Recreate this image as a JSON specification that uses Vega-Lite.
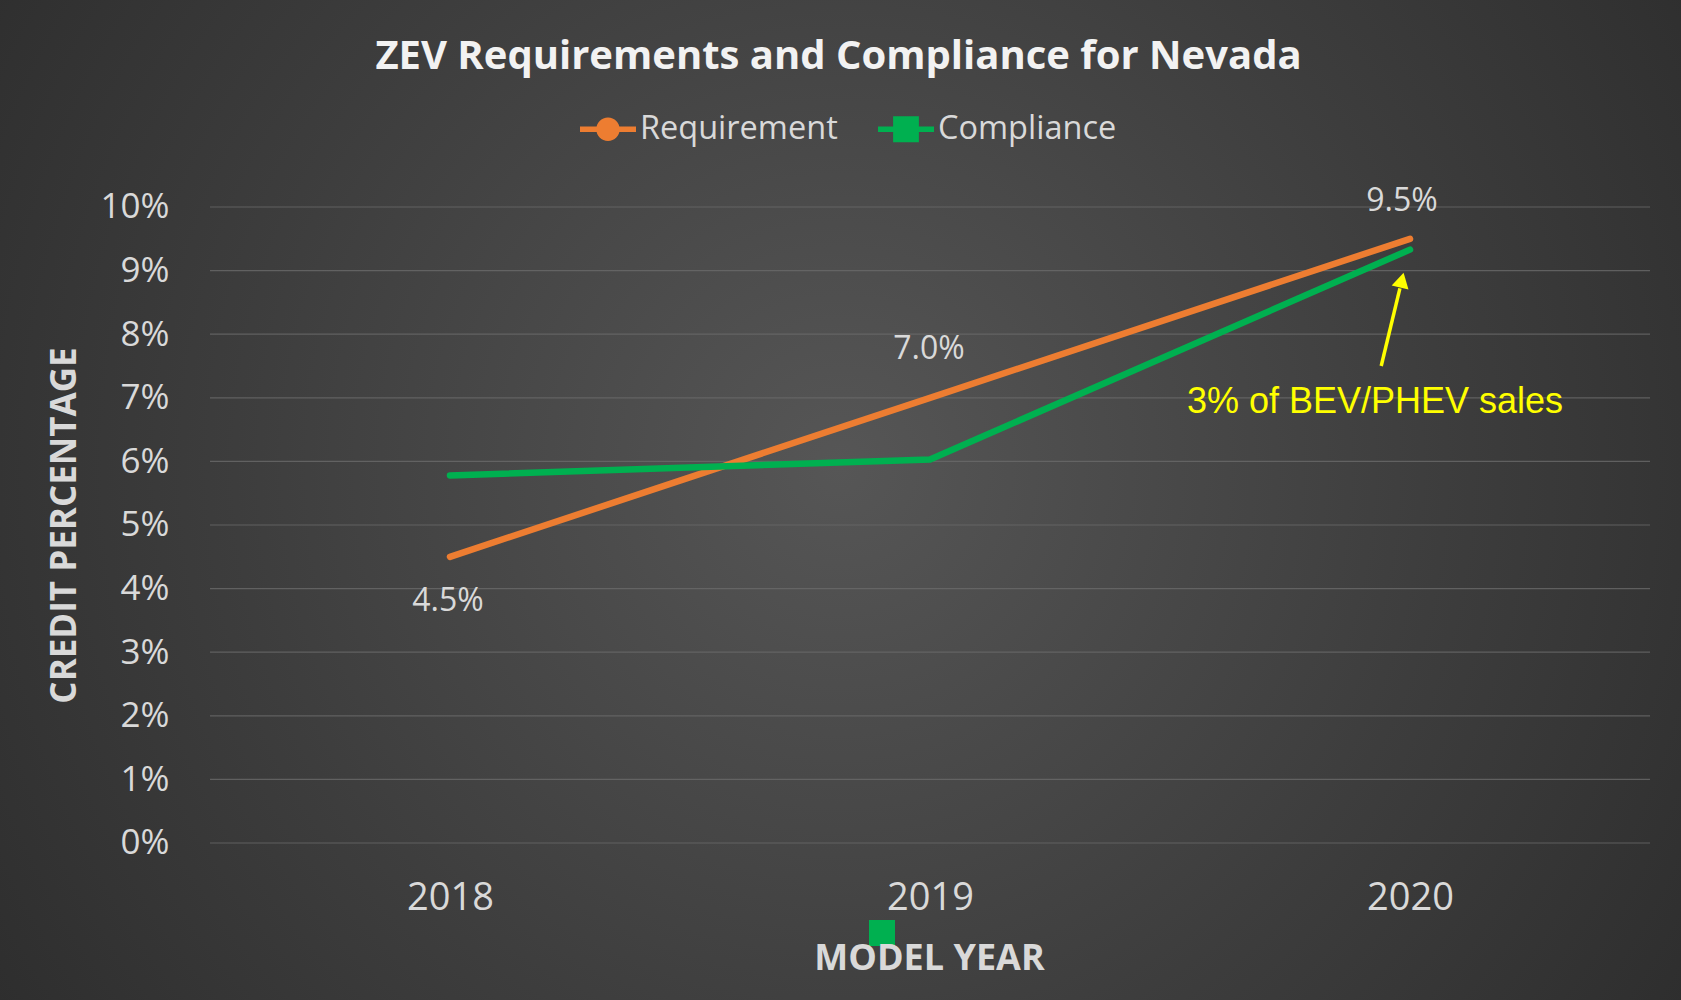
{
  "$schema": "https://vega.github.io/schema/vega-lite/v6.json",
  "width": 1681,
  "height": 1000,
  "autosize": {"type": "none"},
  "padding": 0,
  "background": "#262626",
  "config": {
    "view": {"stroke": null},
    "font": "Open Sans"
  },
  "title": {
    "text": "ZEV Requirements and Compliance for Nevada",
    "orient": "top",
    "anchor": "middle",
    "frame": "group",
    "offset": -77,
    "dx": -2,
    "fontSize": 40,
    "fontWeight": "bold",
    "color": "#F2F2F2",
    "font": "Open Sans"
  },
  "datasets": {
    "main": [
      {"year": 2018, "series": "Requirement", "value": 4.5},
      {"year": 2019, "series": "Requirement", "value": 7.0},
      {"year": 2020, "series": "Requirement", "value": 9.5},
      {"year": 2018, "series": "Compliance", "value": 5.78},
      {"year": 2019, "series": "Compliance", "value": 6.03},
      {"year": 2020, "series": "Compliance", "value": 9.33}
    ],
    "grid": [
      {"g": 0}, {"g": 1}, {"g": 2}, {"g": 3}, {"g": 4}, {"g": 5},
      {"g": 6}, {"g": 7}, {"g": 8}, {"g": 9}, {"g": 10}
    ]
  },
  "layer": [
    {
      "data": {"values": [{}]},
      "mark": {
        "type": "rect",
        "fill": {
          "gradient": "radial",
          "x1": 0.5, "y1": 0.48, "r1": 0,
          "x2": 0.5, "y2": 0.48, "r2": 0.72,
          "stops": [
            {"offset": 0, "color": "#565656"},
            {"offset": 0.5, "color": "#3d3d3d"},
            {"offset": 1, "color": "#262626"}
          ]
        }
      },
      "encoding": {}
    },
    {
      "data": {"name": "grid"},
      "mark": {"type": "rule", "color": "#6a6a6a", "strokeWidth": 1.2, "opacity": 0.8},
      "encoding": {
        "y": {"field": "g", "type": "quantitative", "scale": {"domain": [-2.4686, 13.2547], "nice": false, "zero": false},
          "axis": {
            "orient": "left",
            "offset": -211,
            "zindex": 1,
            "values": [0, 1, 2, 3, 4, 5, 6, 7, 8, 9, 10],
            "labelExpr": "datum.value + '%'",
            "labelFontSize": 35,
            "labelColor": "#D9D9D9",
            "labelPadding": 42,
            "ticks": false,
            "tickSize": 0,
            "domain": false,
            "grid": false,
            "title": "CREDIT PERCENTAGE",
            "titleFontSize": 35,
            "titleFontWeight": "bold",
            "titleColor": "#D9D9D9",
            "titleX": -147,
            "titleY": 525,
            "titleAngle": -90,
            "titleAlign": "center",
            "titleBaseline": "middle"
          }
        },
        "x": {"datum": 2017.5, "type": "quantitative"},
        "x2": {"datum": 2020.5}
      }
    },
    {
      "data": {"name": "main"},
      "mark": {"type": "line", "strokeWidth": 6.5, "strokeCap": "round", "strokeJoin": "round"},
      "encoding": {
        "x": {"field": "year", "type": "quantitative", "scale": {"domain": [2017.0625, 2020.5646], "nice": false, "zero": false},
          "axis": {
            "orient": "bottom",
            "offset": -157,
            "zindex": 1,
            "values": [2018, 2019, 2020],
            "format": "d",
            "labelFontSize": 38,
            "labelColor": "#D9D9D9",
            "labelPadding": 36,
            "ticks": false,
            "tickSize": 0,
            "domain": false,
            "grid": false,
            "title": "MODEL YEAR",
            "titleFontSize": 36,
            "titleFontWeight": "bold",
            "titleColor": "#D9D9D9",
            "titleX": 929,
            "titleY": 115,
            "titleAlign": "center",
            "titleBaseline": "middle"
          }
        },
        "y": {"field": "value", "type": "quantitative"},
        "color": {
          "field": "series",
          "type": "nominal",
          "scale": {"domain": ["Requirement", "Compliance"], "range": ["#ED7D31", "#00B050"]},
          "legend": {
            "title": null,
            "orient": "none",
            "legendX": 580,
            "legendY": 101,
            "direction": "horizontal",
            "padding": 0,
            "symbolSize": 3136,
            "symbolType": "M-1,-0.1H1V0.1H-1Z M-0.42,0A0.42,0.42 0 1,1 0.42,0A0.42,0.42 0 1,1 -0.42,0Z",
            "symbolStrokeWidth": 0,
            "labelFontSize": 32.5,
            "labelColor": "#D9D9D9",
            "labelOffset": 4,
            "labelLimit": 0,
            "columnPadding": 40,
            "encode": {
              "symbols": {
                "update": {
                  "shape": {"signal": "datum.value === 'Requirement' ? 'M-1,-0.1H1V0.1H-1Z M-0.42,0A0.42,0.42 0 1,1 0.42,0A0.42,0.42 0 1,1 -0.42,0Z' : 'M-1,-0.1H1V0.1H-1Z M-0.46,-0.46H0.46V0.46H-0.46Z'"},
                  "fill": {"signal": "datum.value === 'Requirement' ? '#ED7D31' : '#00B050'"},
                  "fillOpacity": {"value": 1},
                  "opacity": {"value": 1},
                  "strokeWidth": {"value": 0}
                }
              }
            }
          }
        }
      }
    },
    {
      "data": {"name": "main"},
      "transform": [
        {"filter": "datum.series === 'Requirement' && datum.year === 2018"},
        {"calculate": "format(datum.value, '.1f') + '%'", "as": "label"}
      ],
      "mark": {"type": "text", "fontSize": 32, "color": "#D9D9D9", "dy": 44, "dx": -2, "baseline": "middle"},
      "encoding": {
        "x": {"field": "year", "type": "quantitative"},
        "y": {"field": "value", "type": "quantitative"},
        "text": {"field": "label", "type": "nominal"}
      }
    },
    {
      "data": {"name": "main"},
      "transform": [
        {"filter": "datum.series === 'Requirement' && datum.year === 2019"},
        {"calculate": "format(datum.value, '.1f') + '%'", "as": "label"}
      ],
      "mark": {"type": "text", "fontSize": 32, "color": "#D9D9D9", "dy": -49, "dx": -1, "baseline": "middle"},
      "encoding": {
        "x": {"field": "year", "type": "quantitative"},
        "y": {"field": "value", "type": "quantitative"},
        "text": {"field": "label", "type": "nominal"}
      }
    },
    {
      "data": {"name": "main"},
      "transform": [
        {"filter": "datum.series === 'Requirement' && datum.year === 2020"},
        {"calculate": "format(datum.value, '.1f') + '%'", "as": "label"}
      ],
      "mark": {"type": "text", "fontSize": 32, "color": "#D9D9D9", "dy": -38, "dx": -8, "baseline": "middle"},
      "encoding": {
        "x": {"field": "year", "type": "quantitative"},
        "y": {"field": "value", "type": "quantitative"},
        "text": {"field": "label", "type": "nominal"}
      }
    },
    {
      "data": {"values": [{}]},
      "mark": {"type": "rule", "color": "#FFFF00", "strokeWidth": 3.5},
      "encoding": {
        "x": {"datum": 2019.94, "type": "quantitative"},
        "y": {"datum": 7.5, "type": "quantitative"},
        "x2": {"datum": 2019.979},
        "y2": {"datum": 8.72}
      }
    },
    {
      "data": {"values": [{}]},
      "mark": {"type": "point", "shape": "triangle-up", "filled": true, "color": "#FFFF00", "size": 300, "angle": 13.5, "opacity": 1},
      "encoding": {
        "x": {"datum": 2019.983, "type": "quantitative"},
        "y": {"datum": 8.85, "type": "quantitative"}
      }
    },
    {
      "data": {"values": [{"note": "3% of BEV/PHEV sales"}]},
      "mark": {"type": "text", "font": "Liberation Sans", "fontSize": 36, "color": "#FFFF00", "baseline": "middle", "align": "center"},
      "encoding": {
        "x": {"datum": 2019.927, "type": "quantitative"},
        "y": {"datum": 6.93, "type": "quantitative"},
        "text": {"field": "note", "type": "nominal"}
      }
    },
    {
      "data": {"values": [{}]},
      "mark": {"type": "point", "shape": "square", "filled": true, "color": "#00B050", "size": 676, "opacity": 1},
      "encoding": {
        "x": {"datum": 2018.9, "type": "quantitative"},
        "y": {"datum": -1.415, "type": "quantitative"}
      }
    }
  ]
}
